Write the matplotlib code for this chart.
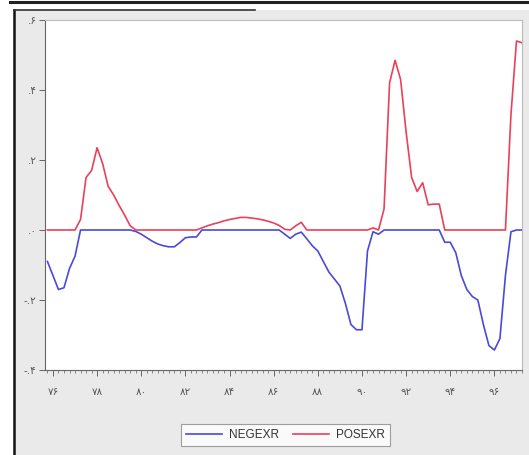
import numpy as np
import matplotlib.pyplot as plt
from matplotlib.patches import Rectangle
from matplotlib.lines import Line2D

# quarterly observations, 1375Q4 .. 1397Q2 (solar hijri years)
start_year = 1375.75
negexr = [-0.09, -0.13, -0.17, -0.165, -0.11, -0.075, 0.0, 0.0, 0.0, 0.0,
          0.0, 0.0, 0.0, 0.0, 0.0, 0.0, -0.004, -0.012, -0.022, -0.032,
          -0.04, -0.045, -0.048, -0.048, -0.036, -0.022, -0.02, -0.02, 0.0, 0.0,
          0.0, 0.0, 0.0, 0.0, 0.0, 0.0, 0.0, 0.0, 0.0, 0.0,
          0.0, 0.0, 0.0, -0.012, -0.024, -0.012, -0.006, -0.025, -0.045, -0.06,
          -0.09, -0.12, -0.14, -0.16, -0.21, -0.27, -0.285, -0.285, -0.06, -0.005,
          -0.012, 0.0, 0.0, 0.0, 0.0, 0.0, 0.0, 0.0, 0.0, 0.0,
          0.0, 0.0, -0.035, -0.035, -0.065, -0.13, -0.17, -0.19, -0.2, -0.27,
          -0.33, -0.343, -0.31, -0.13, -0.005, 0.0, 0.0]
posexr = [0.0, 0.0, 0.0, 0.0, 0.0, 0.0, 0.03, 0.15, 0.17, 0.235,
          0.19, 0.125, 0.1, 0.07, 0.042, 0.012, 0.0, 0.0, 0.0, 0.0,
          0.0, 0.0, 0.0, 0.0, 0.0, 0.0, 0.0, 0.0, 0.006, 0.012,
          0.017, 0.021, 0.026, 0.03, 0.033, 0.036, 0.036, 0.034, 0.032, 0.029,
          0.025, 0.02, 0.013, 0.002, 0.0, 0.012, 0.022, 0.0, 0.0, 0.0,
          0.0, 0.0, 0.0, 0.0, 0.0, 0.0, 0.0, 0.0, 0.0, 0.006,
          0.0, 0.06, 0.42, 0.485, 0.43, 0.28, 0.15, 0.11, 0.135, 0.072,
          0.074, 0.074, 0.0, 0.0, 0.0, 0.0, 0.0, 0.0, 0.0, 0.0,
          0.0, 0.0, 0.0, 0.0, 0.33, 0.54, 0.535]
t = start_year + 0.25 * np.arange(len(negexr))

xtick_years = [1376, 1378, 1380, 1382, 1384, 1386, 1388, 1390, 1392, 1394, 1396]
xtick_labels = ["۷۶", "۷۸", "۸۰", "۸۲", "۸۴", "۸۶", "۸۸", "۹۰", "۹۲", "۹۴", "۹۶"]
ytick_vals = [-0.4, -0.2, 0.0, 0.2, 0.4, 0.6]
ytick_labels = ["-.۴", "-.۲", ".۰", ".۲", ".۴", ".۶"]

fig = plt.figure(figsize=(5.29, 4.55), dpi=100)
fig.patch.set_facecolor("white")
# grey panel of the scanned page + dark frame
fig.add_artist(Rectangle((14/529, 0), 1 - 14/529, 1 - 10/455,
                         transform=fig.transFigure, facecolor="#eaeaea",
                         edgecolor="none", zorder=0))
fig.add_artist(Line2D([14/529, 14/529], [0, 1 - 10/455], transform=fig.transFigure,
                      color="#111111", lw=1.8))
fig.add_artist(Line2D([10/529, 1], [1 - 2/455, 1 - 2/455], transform=fig.transFigure,
                      color="#222222", lw=2.2))
fig.add_artist(Line2D([14/529, 255/529], [1 - 10/455, 1 - 10/455], transform=fig.transFigure,
                      color="#333333", lw=1.2))

ax = fig.add_axes([45/529, 1 - 370/455, 477/529, 350/455])
ax.set_facecolor("white")
ax.plot(t, negexr, color="#4a4ad8", lw=1.2, label="NEGEXR")
ax.plot(t, posexr, color="#e8415a", lw=1.2, label="POSEXR")

ax.set_xlim(1375.64, 1397.22)
ax.set_ylim(-0.4, 0.6)
ax.set_xticks(xtick_years)
ax.set_xticklabels(xtick_labels, fontsize=7.5, color="#555555", family="DejaVu Sans")
ax.set_xticks(np.arange(1375.75, 1397.3, 0.25), minor=True)
ax.set_yticks(ytick_vals)
ax.set_yticklabels(ytick_labels, fontsize=7.5, color="#555555", family="DejaVu Sans")
ax.tick_params(axis="x", which="major", direction="out", length=4, width=0.7,
               color="#666666", pad=8)
ax.tick_params(axis="x", which="minor", direction="out", length=2.5, width=0.6,
               color="#777777")
ax.tick_params(axis="y", direction="out", length=4, width=0.7, color="#666666", pad=2)

for side in ["left", "bottom"]:
    ax.spines[side].set_color("#666666")
    ax.spines[side].set_linewidth(0.8)
for side in ["top", "right"]:
    ax.spines[side].set_color("#bbbbbb")
    ax.spines[side].set_linewidth(0.8)

leg = fig.legend(loc="center", bbox_to_anchor=(285.5/529, 1 - 435/455), ncol=2,
                 frameon=True, fancybox=False, handlelength=3,
                 columnspacing=1.2, handletextpad=0.6, borderpad=0.45,
                 prop={"family": "Liberation Sans", "size": 8.5})
leg.get_frame().set_edgecolor("#888888")
leg.get_frame().set_linewidth(0.8)
for txt in leg.get_texts():
    txt.set_color("#333333")

fig.savefig("out.png", dpi=100)
